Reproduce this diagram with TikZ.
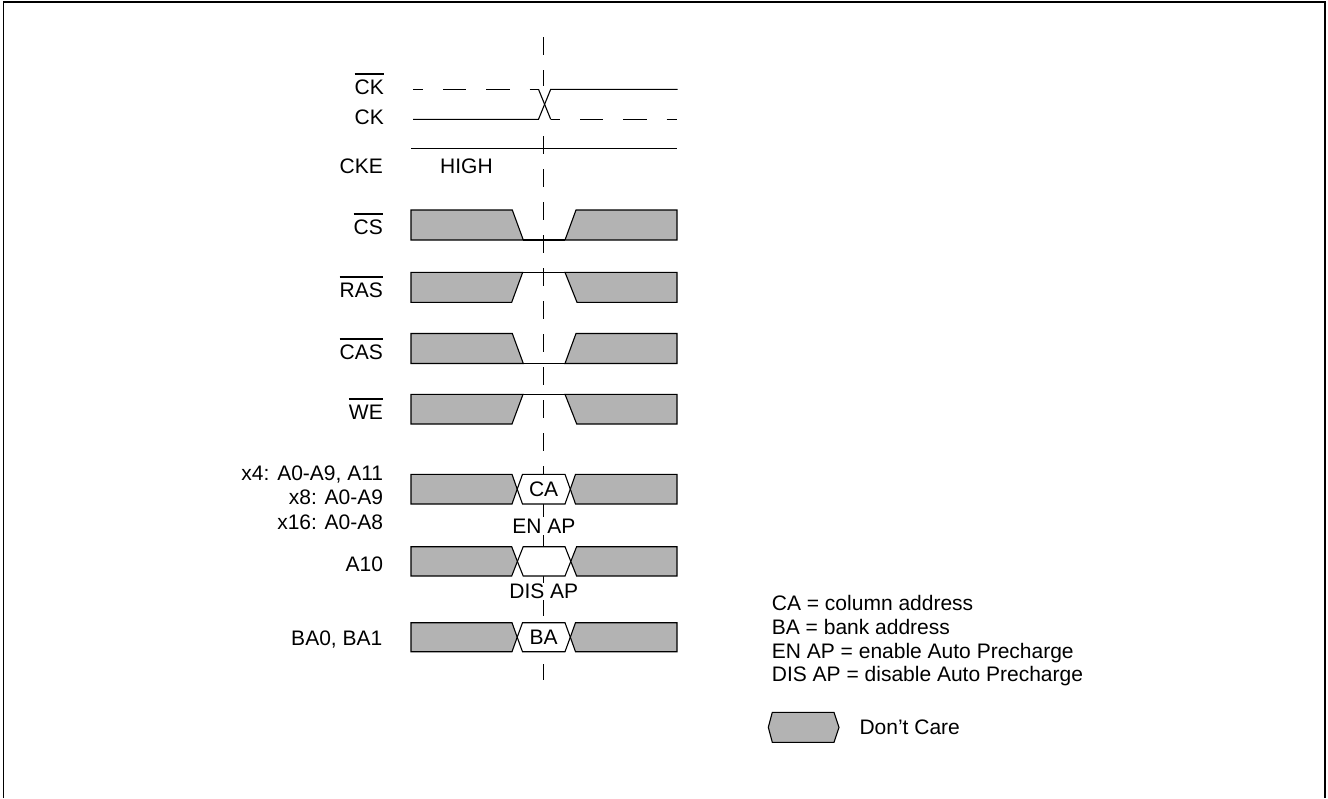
\documentclass[tikz,border=0pt]{standalone}
\usepackage{fontspec}
\setmainfont{Liberation Sans}
\definecolor{dcgray}{RGB}{179,179,179}
\newcommand{\ovl}[1]{\setbox0\hbox{#1}\rlap{\rule[19.6pt]{\wd0}{1.7pt}}\box0}
\tikzset{
  wave/.style={draw=black, line width=1.1pt, line join=miter},
  dcbox/.style={wave, fill=dcgray},
  validbox/.style={wave, fill=white},
  ckdash/.style={draw=black, line width=1.1pt, dash pattern=on 23.3pt off 20pt},
  guide/.style={draw=black, line width=1.1pt, dash pattern=on 18pt off 15pt},
  lbl/.style={font=\fontsize{21}{25}\selectfont, inner sep=0pt, anchor=base east},
  txt/.style={font=\fontsize{21}{25}\selectfont, inner sep=0pt},
  masked/.style={txt, fill=white, inner sep=1pt},
}
\begin{document}
\begin{tikzpicture}[x=1pt,y=-1pt]
\useasboundingbox (0,0) rectangle (1328,798);
% frame
\draw[line width=1.5pt] (3.3,798) -- (3.3,2) -- (1325,2) -- (1325,798);

% vertical reference line
\coordinate (gtop) at (543.5,37);
\coordinate (gbot) at (543.5,680);
\draw[guide] (gtop) -- (gbot);

% labels
\node[lbl] (lckb) at (384,94.2) {\ovl{CK}};
\node[lbl] (lck) at (384,124.2) {CK};
\node[lbl] (lcke) at (383,173.5) {CKE};
\node[lbl] (lcs) at (383,234.2) {\ovl{CS}};
\node[lbl] (lras) at (383,297.3) {\ovl{RAS}};
\node[lbl] (lcas) at (383,359.2) {\ovl{CAS}};
\node[lbl] (lwe) at (383,419.2) {\ovl{WE}};
\node[lbl] (la1) at (383.3,480.8) {x4: A0-A9, A11};
\node[lbl] (la2) at (383.3,504.2) {x8: A0-A9};
\node[lbl] (la3) at (383.3,529.2) {x16: A0-A8};
\node[lbl] (la10) at (383.3,571.5) {A10};
\node[lbl] (lba) at (382.5,645.5) {BA0, BA1};

% clocks
\fill[white] (536,86) rectangle (553,122);
\draw[ckdash, dash phase=13.3pt] (413,89.3) -- (538.5,89.3);
\draw[wave] (538.5,89.3) -- (550.7,119.3);
\draw[ckdash, dash phase=14pt] (550.7,119.3) -- (677,119.3);
\draw[wave] (413,119.3) -- (538.5,119.3) -- (550.7,89.3) -- (677.7,89.3);

% CKE
\draw[wave] (411,148.3) -- (676.7,148.3);
\node[txt, anchor=base west] (high) at (440,173.4) {HIGH};

% CS (low)
\draw[dcbox] (411,210) -- (512.3,210) -- (523.3,240) -- (411,240) -- cycle;
\draw[wave] (523.3,240) -- (565,240);
\draw[dcbox] (565,240) -- (576,210) -- (677,210) -- (677,240) -- cycle;

% RAS (high)
\draw[dcbox] (411,272.3) -- (522.7,272.3) -- (511.7,302.3) -- (411,302.3) -- cycle;
\draw[wave] (522.7,272.3) -- (565,272.3);
\draw[dcbox] (565,272.3) -- (677,272.3) -- (677,302.3) -- (577,302.3) -- cycle;

% CAS (low)
\draw[dcbox] (411,333.5) -- (512.3,333.5) -- (523.3,363.5) -- (411,363.5) -- cycle;
\draw[wave] (523.3,363.5) -- (565,363.5);
\draw[dcbox] (565,363.5) -- (576,333.5) -- (677,333.5) -- (677,363.5) -- cycle;

% WE (high)
\draw[dcbox] (411,394.3) -- (523,394.3) -- (512,424) -- (411,424) -- cycle;
\draw[wave] (523,394.3) -- (565,394.3);
\draw[dcbox] (565,394.3) -- (677,394.3) -- (677,424) -- (576.7,424) -- cycle;

% Address CA
\draw[dcbox] (411,474.3) -- (512,474.3) -- (517.2,489.2) -- (512,504) -- (411,504) -- cycle;
\draw[validbox] (517.2,489.2) -- (522.5,474.3) -- (565,474.3) -- (570.3,489.2) -- (565,504) -- (522.5,504) -- cycle;
\draw[dcbox] (570.3,489.2) -- (575.5,474.3) -- (677,474.3) -- (677,504) -- (575.5,504) -- cycle;
\node[txt, anchor=base] (ca) at (543.6,496.7) {CA};

% A10
\node[masked, anchor=base] (enap) at (543.8,533.5) {EN AP};
\draw[dcbox] (411,546.7) -- (511.7,546.7) -- (517.4,561.4) -- (511.7,576) -- (411,576) -- cycle;
\draw[validbox] (517.4,561.4) -- (523.2,546.7) -- (565,546.7) -- (570.8,561.4) -- (565,576) -- (523.2,576) -- cycle;
\draw[dcbox] (570.8,561.4) -- (576.6,546.7) -- (677,546.7) -- (677,576) -- (576.6,576) -- cycle;
\node[masked, anchor=base] (disap) at (543.8,598.5) {DIS AP};

% BA
\draw[dcbox] (411,622.7) -- (512,622.7) -- (517.2,637.2) -- (512,651.7) -- (411,651.7) -- cycle;
\draw[validbox] (517.2,637.2) -- (522.5,622.7) -- (565,622.7) -- (570.3,637.2) -- (565,651.7) -- (522.5,651.7) -- cycle;
\draw[dcbox] (570.3,637.2) -- (575.5,622.7) -- (677,622.7) -- (677,651.7) -- (575.5,651.7) -- cycle;
\node[txt, anchor=base] (ba) at (543.6,644.7) {BA};

% legend
\node[txt, anchor=base west] (leg1) at (771.7,610.5) {CA = column address};
\node[txt, anchor=base west] (leg2) at (771.7,634) {BA = bank address};
\node[txt, anchor=base west] (leg3) at (771.7,658) {EN AP = enable Auto Precharge};
\node[txt, anchor=base west] (leg4) at (771.7,681.5) {DIS AP = disable Auto Precharge};
\draw[dcbox] (768.3,727.3) -- (772.3,712.3) -- (834,712.3) -- (839,727.3) -- (834,742.3) -- (772.3,742.3) -- cycle;
\node[txt, anchor=base west] (dontcare) at (859.3,734.6) {Don’t Care};
\end{tikzpicture}
\end{document}
